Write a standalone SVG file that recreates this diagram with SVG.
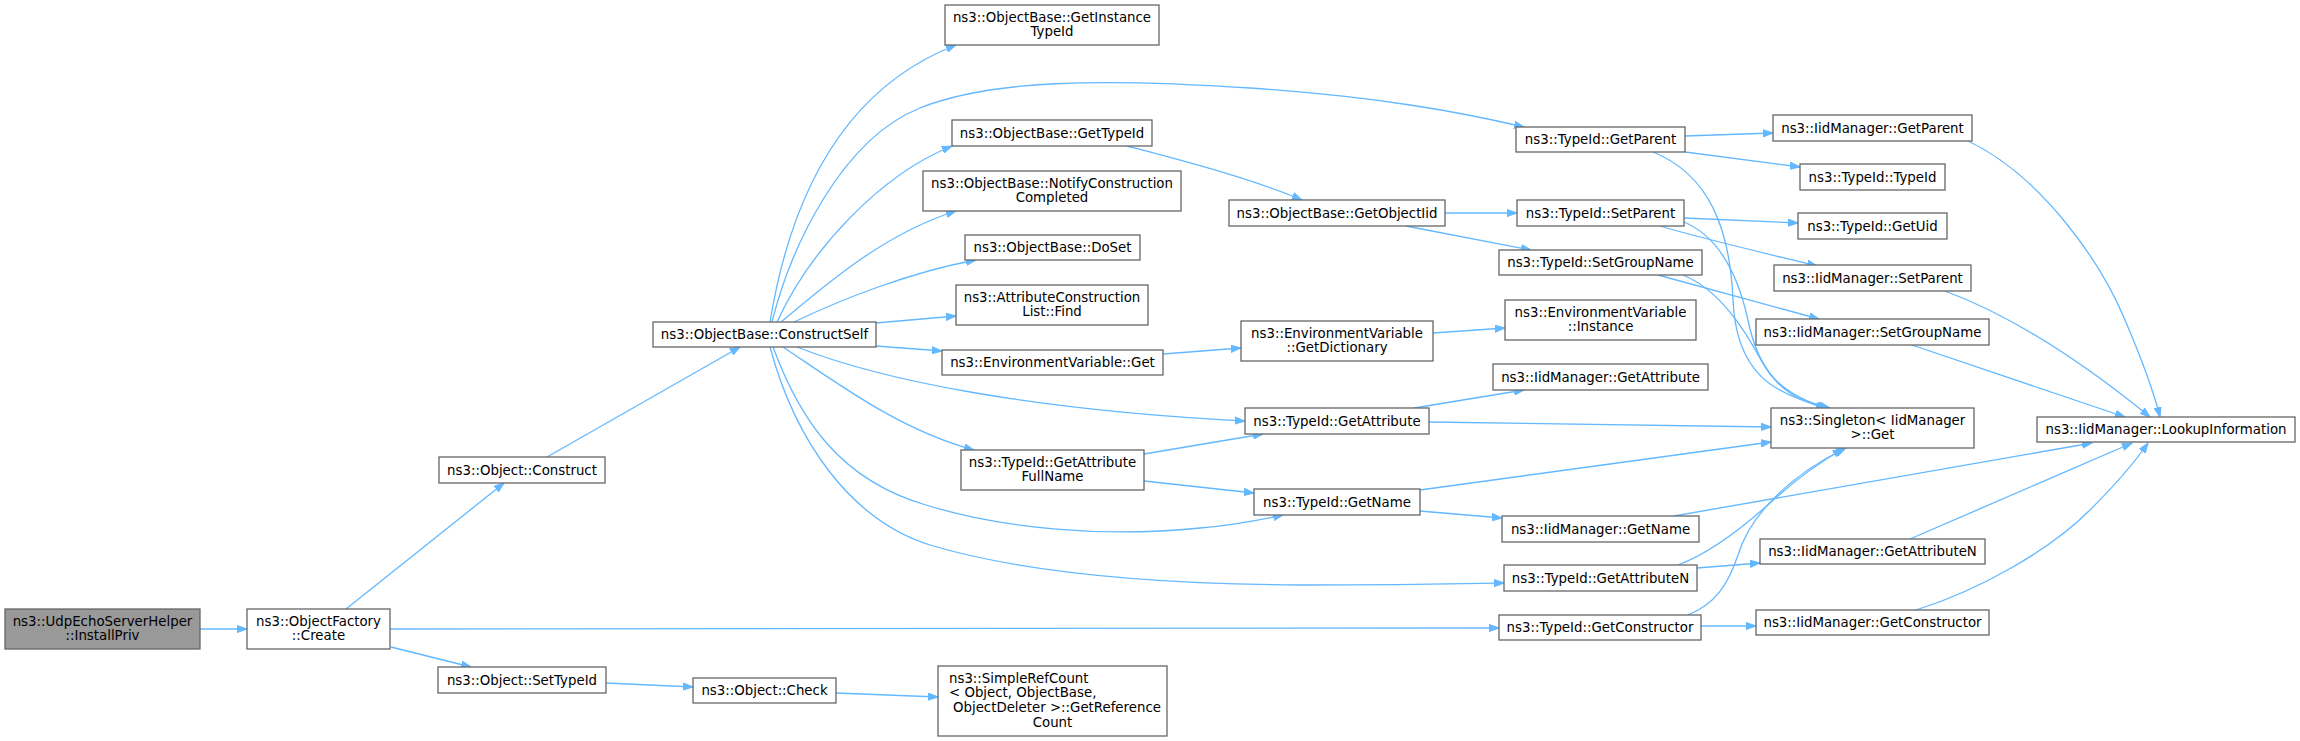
<svg xmlns="http://www.w3.org/2000/svg" width="2300" height="741" viewBox="0 0 2300 741">
<style>
.n rect{fill:#ffffff;stroke:#666666;stroke-width:1.3}
.root rect{fill:#999999;stroke:#666666;stroke-width:1.3}
text{font-family:"DejaVu Sans","Liberation Sans",sans-serif;font-size:13.33px;fill:#000000;text-anchor:middle}
.l text,text.l{text-anchor:start}
#edges path{fill:none;stroke:#63b8ff;stroke-width:1.3;marker-end:url(#ah)}
</style>
<defs>
<marker id="ah" markerWidth="11" markerHeight="8" refX="10" refY="4" orient="auto" markerUnits="userSpaceOnUse">
<path d="M0,0.4 L10,4 L0,7.6 z" fill="#63b8ff" stroke="#63b8ff" stroke-width="1"/>
</marker>
</defs>
<rect width="2300" height="741" fill="#ffffff"/>
<g id="edges">
<path d="M200,629 L247,629"/>
<path d="M346,609 L504,483"/>
<path d="M390,629 L1499,628"/>
<path d="M391,647 L471,667"/>
<path d="M547,457 L740,347"/>
<path d="M770,322 C790,200 840,90 956,45"/>
<path d="M772,322 C790,250 840,140 920,108 C990,80 1100,78 1250,88 C1380,97 1460,112 1524,127"/>
<path d="M777,322 C810,250 880,175 952,146"/>
<path d="M781,322 C820,290 880,235 956,211"/>
<path d="M794,322 C840,300 910,272 976,260"/>
<path d="M876,323 L956,316"/>
<path d="M876,346 L942,351"/>
<path d="M797,347 C880,380 1030,410 1245,421"/>
<path d="M783,347 C840,385 900,430 974,450"/>
<path d="M773,347 C800,420 840,480 926,505 C1000,528 1100,538 1200,528 C1235,525 1260,520 1283,515"/>
<path d="M770,347 C795,440 850,520 930,545 C1020,572 1150,584 1300,585 C1400,585 1450,584 1504,583"/>
<path d="M1127,146 C1180,160 1250,178 1302,200"/>
<path d="M1445,213 L1517,213"/>
<path d="M1406,226 L1531,250"/>
<path d="M1163,354 L1241,348"/>
<path d="M1433,333 L1505,328"/>
<path d="M1144,454 C1180,448 1220,441 1263,434"/>
<path d="M1144,481 L1254,493"/>
<path d="M1414,408 L1524,390"/>
<path d="M1429,422 L1771,427"/>
<path d="M1420,490 L1771,442"/>
<path d="M1420,511 L1502,518"/>
<path d="M1685,136 L1773,133"/>
<path d="M1685,152 L1800,167"/>
<path d="M1653,152 C1710,175 1730,230 1733,300 C1736,370 1770,395 1830,408"/>
<path d="M1684,218 L1798,223"/>
<path d="M1660,226 C1700,238 1760,252 1817,266"/>
<path d="M1684,222 C1720,237 1738,275 1748,320 C1758,370 1780,395 1828,408"/>
<path d="M1658,275 L1819,319"/>
<path d="M1683,275 C1720,290 1745,330 1762,362 C1778,390 1800,402 1826,408"/>
<path d="M1678,565 C1710,553 1740,530 1770,503 C1795,480 1820,462 1843,449"/>
<path d="M1697,568 L1760,563"/>
<path d="M1688,615 C1715,604 1728,585 1738,555 C1750,515 1790,475 1846,448"/>
<path d="M1701,626 L1756,626"/>
<path d="M1968,141 C2040,175 2100,260 2125,320 C2140,355 2152,385 2160,417"/>
<path d="M1945,291 C2010,315 2080,360 2150,417"/>
<path d="M1912,345 L2125,417"/>
<path d="M1674,516 L2092,443"/>
<path d="M1910,539 L2132,443"/>
<path d="M1916,610 C1980,590 2050,550 2090,510 C2115,485 2135,462 2148,443"/>
<path d="M606,683 L693,687"/>
<path d="M836,693 L938,697"/>
</g>
<g id="n0" class="root"><rect x="5" y="609" width="195" height="40"/><text x="102.5" y="625.5">ns3::UdpEchoServerHelper</text><text x="102.5" y="640.2">::InstallPriv</text></g>
<g id="n1" class="n"><rect x="247" y="609" width="143" height="40"/><text x="318.5" y="625.5">ns3::ObjectFactory</text><text x="318.5" y="640.2">::Create</text></g>
<g id="n2" class="n"><rect x="439" y="457" width="166" height="26"/><text x="522" y="474.5">ns3::Object::Construct</text></g>
<g id="n3" class="n"><rect x="438" y="667" width="168" height="26"/><text x="522" y="684.5">ns3::Object::SetTypeId</text></g>
<g id="n4" class="n"><rect x="653" y="322" width="223" height="25"/><text x="764.5" y="339">ns3::ObjectBase::ConstructSelf</text></g>
<g id="n5" class="n"><rect x="945" y="5" width="214" height="40"/><text x="1052" y="21.5">ns3::ObjectBase::GetInstance</text><text x="1052" y="36.2">TypeId</text></g>
<g id="n6" class="n"><rect x="952" y="120" width="200" height="26"/><text x="1052" y="137.5">ns3::ObjectBase::GetTypeId</text></g>
<g id="n7" class="n"><rect x="923" y="171" width="258" height="40"/><text x="1052" y="187.5">ns3::ObjectBase::NotifyConstruction</text><text x="1052" y="202.2">Completed</text></g>
<g id="n8" class="n"><rect x="965" y="235" width="175" height="25"/><text x="1052.5" y="252">ns3::ObjectBase::DoSet</text></g>
<g id="n9" class="n"><rect x="956" y="285" width="192" height="40"/><text x="1052" y="301.5">ns3::AttributeConstruction</text><text x="1052" y="316.2">List::Find</text></g>
<g id="n10" class="n"><rect x="942" y="350" width="221" height="25"/><text x="1052.5" y="367">ns3::EnvironmentVariable::Get</text></g>
<g id="n11" class="n"><rect x="961" y="450" width="183" height="40"/><text x="1052.5" y="466.5">ns3::TypeId::GetAttribute</text><text x="1052.5" y="481.2">FullName</text></g>
<g id="n12" class="n"><rect x="693" y="678" width="143" height="25"/><text x="764.5" y="695">ns3::Object::Check</text></g>
<g id="n13" class="n"><rect x="938" y="666" width="229" height="70"/><text class="l" x="949" y="682.5">ns3::SimpleRefCount</text><text class="l" x="949" y="697.2">&lt; Object, ObjectBase,</text><text class="l" x="953" y="711.9">ObjectDeleter &gt;::GetReference</text><text x="1052.5" y="726.6">Count</text></g>
<g id="n14" class="n"><rect x="1516" y="127" width="169" height="25"/><text x="1600.5" y="144">ns3::TypeId::GetParent</text></g>
<g id="n15" class="n"><rect x="1229" y="200" width="216" height="26"/><text x="1337" y="217.5">ns3::ObjectBase::GetObjectIid</text></g>
<g id="n16" class="n"><rect x="1517" y="200" width="167" height="26"/><text x="1600.5" y="217.5">ns3::TypeId::SetParent</text></g>
<g id="n17" class="n"><rect x="1499" y="250" width="203" height="25"/><text x="1600.5" y="267">ns3::TypeId::SetGroupName</text></g>
<g id="n18" class="n"><rect x="1505" y="300" width="191" height="40"/><text x="1600.5" y="316.5">ns3::EnvironmentVariable</text><text x="1600.5" y="331.2">::Instance</text></g>
<g id="n19" class="n"><rect x="1241" y="321" width="192" height="40"/><text x="1337" y="337.5">ns3::EnvironmentVariable</text><text x="1337" y="352.2">::GetDictionary</text></g>
<g id="n20" class="n"><rect x="1493" y="364" width="215" height="26"/><text x="1600.5" y="381.5">ns3::IidManager::GetAttribute</text></g>
<g id="n21" class="n"><rect x="1245" y="408" width="184" height="26"/><text x="1337" y="425.5">ns3::TypeId::GetAttribute</text></g>
<g id="n22" class="n"><rect x="1254" y="489" width="166" height="26"/><text x="1337" y="506.5">ns3::TypeId::GetName</text></g>
<g id="n23" class="n"><rect x="1502" y="516" width="197" height="26"/><text x="1600.5" y="533.5">ns3::IidManager::GetName</text></g>
<g id="n24" class="n"><rect x="1504" y="565" width="193" height="26"/><text x="1600.5" y="582.5">ns3::TypeId::GetAttributeN</text></g>
<g id="n25" class="n"><rect x="1499" y="615" width="202" height="25"/><text x="1600" y="632">ns3::TypeId::GetConstructor</text></g>
<g id="n26" class="n"><rect x="1773" y="115" width="199" height="26"/><text x="1872.5" y="132.5">ns3::IidManager::GetParent</text></g>
<g id="n27" class="n"><rect x="1800" y="164" width="145" height="26"/><text x="1872.5" y="181.5">ns3::TypeId::TypeId</text></g>
<g id="n28" class="n"><rect x="1798" y="213" width="149" height="26"/><text x="1872.5" y="230.5">ns3::TypeId::GetUid</text></g>
<g id="n29" class="n"><rect x="1774" y="265" width="197" height="26"/><text x="1872.5" y="282.5">ns3::IidManager::SetParent</text></g>
<g id="n30" class="n"><rect x="1756" y="319" width="233" height="26"/><text x="1872.5" y="336.5">ns3::IidManager::SetGroupName</text></g>
<g id="n31" class="n"><rect x="1771" y="408" width="203" height="40"/><text x="1872.5" y="424.5">ns3::Singleton&lt; IidManager</text><text x="1872.5" y="439.2">&gt;::Get</text></g>
<g id="n32" class="n"><rect x="2037" y="417" width="258" height="25"/><text x="2166" y="434">ns3::IidManager::LookupInformation</text></g>
<g id="n33" class="n"><rect x="1760" y="539" width="225" height="25"/><text x="1872.5" y="556">ns3::IidManager::GetAttributeN</text></g>
<g id="n34" class="n"><rect x="1756" y="610" width="233" height="25"/><text x="1872.5" y="627">ns3::IidManager::GetConstructor</text></g>
</svg>
